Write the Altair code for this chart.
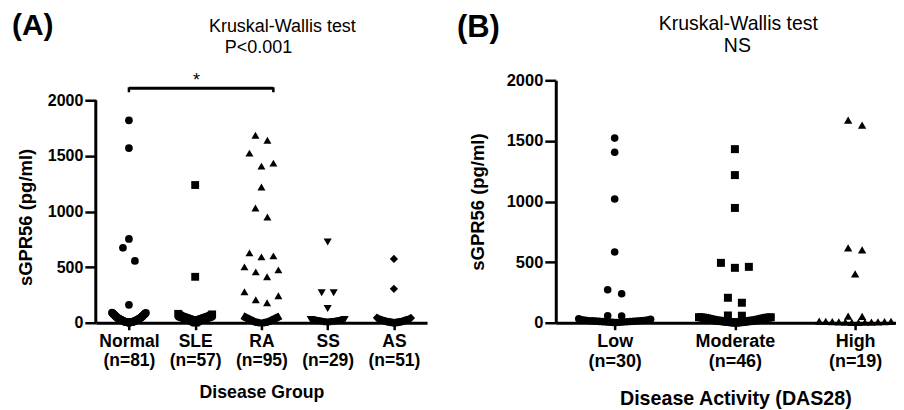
import json
import altair as alt
import pandas as pd

FONT = "Liberation Sans"

# ---------------- data ----------------
groups_a = ["Normal", "SLE", "RA", "SS", "AS"]
counts_a = [81, 57, 95, 29, 51]
normal_vals = [1820, 1570, 753, 673, 556, 161,
               0, 1, 1, 2, 2, 3, 3, 4, 4, 5, 5, 6, 6, 7, 7, 8, 8, 9, 10, 10,
               11, 12, 13, 14, 15, 16, 17, 18, 19, 20, 21, 22, 23, 24, 25, 26,
               27, 28, 29, 30, 31, 32, 34, 35, 36, 38, 39, 40, 42, 44, 45, 47,
               48, 50, 52, 54, 55, 57, 59, 61, 63, 65, 67, 69, 71, 73, 75, 77,
               79, 81, 83, 85, 87, 89, 92]
sle_vals = [1238, 413,
            2, 4, 6, 8, 10, 12, 14, 16, 18, 20, 21, 22, 23, 24, 25, 26, 27, 28,
            29, 30, 31, 32, 33, 34, 35, 36, 37, 38, 39, 40, 41, 42, 43, 44, 45,
            46, 47, 48, 49, 50, 51, 52, 53, 54, 55, 56, 57, 58, 60, 62, 64, 66,
            70, 75, 80]
ra_vals = [1686, 1641, 1525, 1435, 1408, 1220, 1031, 951, 628, 601, 592, 502,
           475, 457, 413, 278, 242, 206, 179,
           0, 0, 1, 1, 2, 2, 3, 3, 4, 4, 5, 5, 6, 6, 7, 7, 8, 8, 9, 9, 10, 10,
           11, 11, 12, 12, 13, 14, 15, 16, 17, 18, 19, 20, 21, 22, 23, 24, 25,
           26, 27, 28, 29, 30, 31, 32, 33, 34, 35, 36, 37, 38, 39, 40, 41, 42,
           43, 44, 45, 46, 47, 48, 49, 50, 51, 52, 53, 54, 55, 56, 57, 58, 59,
           60, 62, 64]
ss_vals = [726, 269, 269, 128,
           1, 2, 3, 4, 5, 6, 7, 8, 9, 10, 11, 12, 13, 14, 15, 16, 17, 18, 19,
           20, 22, 24, 26, 28, 30]
as_vals = [574, 305,
           0, 0, 1, 1, 2, 2, 3, 3, 4, 4, 5, 5, 6, 6, 7, 7, 8, 8, 9, 9, 10, 11,
           12, 13, 14, 15, 16, 17, 18, 19, 20, 21, 22, 23, 24, 25, 26, 27, 28,
           29, 30, 31, 32, 34, 36, 38, 40, 43, 46]

groups_b = ["Low", "Moderate", "High"]
counts_b = [30, 46, 19]
low_vals = [1523, 1407, 1021, 584, 272, 239, 58, 56,
            2, 3, 4, 5, 6, 7, 8, 9, 10, 11, 12, 13, 14, 15, 16, 17, 18, 20,
            22, 25, 28, 32]
moderate_vals = [1432, 1218, 947, 494, 461, 453, 206, 165, 60, 58,
                 1, 2, 3, 4, 5, 6, 7, 8, 9, 10, 11, 12, 13, 14, 15, 16, 17, 18,
                 19, 20, 22, 24, 26, 28, 30, 32, 34, 36, 38, 40, 41, 42, 43,
                 44, 45, 46]
high_vals = [1671, 1630, 617, 601, 403, 55, 52,
             2, 3, 4, 5, 6, 7, 8, 9, 10, 11, 12, 14]

y_ticks = [0, 500, 1000, 1500, 2000]
panel_labels = ["(A)", "(B)"]
test_name = "Kruskal-Wallis test"
test_results = ["P<0.001", "NS"]
star_text = "*"
bracket_pair = ["Normal", "RA"]
x_titles = ["Disease Group", "Disease Activity (DAS28)"]
y_title = "sGPR56 (pg/ml)"

# ---------------- layout / style ----------------
H = 243                      # both plot areas share the same height
WA, WB = 332, 341
HA_AXIS = 223                # panel A's 0..2000 axis is shorter
YMAX_A = 2000 * H / HA_AXIS  # headroom above 2000 in panel A
XDOM_A = [-0.5, 4.5]
XDOM_B = [-0.49, 2.34]
shapes_a = ["circle", "square", "triangle-up", "triangle-down", "diamond"]
sizes_a = [60, 68, 72, 72, 70]
shapes_b = ["circle", "square", "triangle-up"]
sizes_b = [58, 70, 72]


def swarm(values, px_per_unit, row_h, slot, max_w):
    """GraphPad-like column scatter: group close values into rows and
    spread each row symmetrically (lowest value in the centre)."""
    vals = sorted(values)
    rows = []
    for v in vals:
        if rows and v * px_per_unit <= rows[-1][0] * px_per_unit + row_h:
            rows[-1].append(v)
        else:
            rows.append([v])
    out = []
    for row in rows:
        n = len(row)
        step = slot if n < 2 else min(slot, max_w / (n - 1))
        pos = [(i - (n - 1) / 2) * step for i in range(n)]
        order = sorted(pos, key=lambda p: (abs(p), -p))
        out.extend(zip(row, order))
    return out


def build_df(groups, vals_list, px_y, step_px, row_h, slot, max_w):
    recs = []
    for gi, (g, vals) in enumerate(zip(groups, vals_list)):
        for v, off in swarm(vals, px_y, row_h, slot, max_w):
            recs.append({"group": g, "value": v, "x": gi + off / step_px})
    return pd.DataFrame(recs)


step_a = WA / (XDOM_A[1] - XDOM_A[0])
step_b = WB / (XDOM_B[1] - XDOM_B[0])
df_a = build_df(groups_a, [normal_vals, sle_vals, ra_vals, ss_vals, as_vals],
                H / YMAX_A, step_a, 14, 12, 34)
df_b = build_df(groups_b, [low_vals, moderate_vals, high_vals],
                H / 2000, step_b, 6, 14, 72)


def label_expr(groups, counts):
    labs = [f"{g}|(n={c})" for g, c in zip(groups, counts)]
    return "split(" + json.dumps(labs) + "[datum.value], '|')"


def x_axis(groups, counts, title, lab_size, title_size, title_y, title_x):
    return alt.Axis(values=list(range(len(groups))), labelExpr=label_expr(groups, counts),
                    title=title, grid=False, domainColor="black", domainWidth=3,
                    tickColor="black", tickWidth=2.5, tickSize=7, labelPadding=3,
                    labelFont=FONT, labelFontSize=lab_size, labelFontWeight="bold",
                    labelColor="black", labelLineHeight=lab_size + 1.5, labelFlush=False,
                    labelOverlap=False, titleFont=FONT, titleFontSize=title_size,
                    titleFontWeight="bold", titleColor="black", titleY=title_y,
                    titleX=title_x, titleBaseline="alphabetic")


def y_axis(lab_size, title_pad, show_domain=True, title_y=None):
    kw = dict(values=y_ticks, format="d", title=y_title, grid=False,
              domain=show_domain, domainColor="black", domainWidth=3,
              tickColor="black", tickWidth=2.5, tickSize=11, labelPadding=2,
              labelFont=FONT, labelFontSize=lab_size, labelFontWeight="bold",
              labelColor="black", labelFlush=False, labelOverlap=False,
              titleFont=FONT, titleFontSize=18.5, titleFontWeight="bold",
              titleColor="black", titlePadding=title_pad)
    if title_y is not None:
        kw["titleY"] = title_y
    return alt.Axis(**kw)


def text_layer(txt, x, y, size, weight="normal", align="center"):
    return alt.Chart(pd.DataFrame({"t": [txt]})).mark_text(
        font=FONT, fontSize=size, fontWeight=weight, color="black",
        align=align, baseline="alphabetic").encode(
        text="t:N", x=alt.value(x), y=alt.value(y))


# ---------------- panel A ----------------
xs_a = alt.Scale(domain=XDOM_A, nice=False, zero=False)
ys_a = alt.Scale(domain=[0, YMAX_A], nice=False)
pts_a = alt.Chart(df_a).mark_point(filled=True, opacity=1, color="black").encode(
    x=alt.X("x:Q", scale=xs_a,
            axis=x_axis(groups_a, counts_a, x_titles[0], 17.5, 17.7, 75, WA / 2)),
    y=alt.Y("value:Q", scale=ys_a, axis=y_axis(16, 12, False, 137)),
    shape=alt.Shape("group:N", scale=alt.Scale(domain=groups_a, range=shapes_a), legend=None),
    size=alt.Size("group:N", scale=alt.Scale(domain=groups_a, range=sizes_a), legend=None),
)
# y-axis line of panel A, from 0 to 2000 only
y_line = alt.Chart(pd.DataFrame({"y0": [y_ticks[0]], "y1": [y_ticks[-1]]})).mark_rule(
    color="black", strokeWidth=3).encode(
    x=alt.value(0), y=alt.Y("y0:Q", scale=ys_a), y2="y1:Q")

i0, i1 = groups_a.index(bracket_pair[0]), groups_a.index(bracket_pair[1])
br = pd.DataFrame({"x": [i0], "x2": [i1 + 0.18]})
bracket = alt.Chart(br).mark_rule(color="black", strokeWidth=3).encode(
    x=alt.X("x:Q", scale=xs_a), x2="x2:Q", y=alt.value(8))
ends = pd.DataFrame({"x": [i0, i1 + 0.18]})
bracket_ends = alt.Chart(ends).mark_rule(color="black", strokeWidth=2.5).encode(
    x=alt.X("x:Q", scale=xs_a), y=alt.value(7), y2=alt.value(12))

panel_a = alt.layer(
    pts_a, y_line, bracket, bracket_ends,
    text_layer(panel_labels[0], -84, -45, 30, "bold", "left"),
    text_layer(test_name, 187, -48, 18),
    text_layer(test_results[0], 163, -27, 18),
    text_layer(star_text, 101, 6, 18),
).properties(width=WA, height=H)

# ---------------- panel B ----------------
xs_b = alt.Scale(domain=XDOM_B, nice=False, zero=False)
ys_b = alt.Scale(domain=[0, 2000], nice=False)
pts_b = alt.Chart(df_b).mark_point(filled=True, opacity=1, color="black").encode(
    x=alt.X("x:Q", scale=xs_b,
            axis=x_axis(groups_b, counts_b, x_titles[1], 18, 19.7, 82, 180)),
    y=alt.Y("value:Q", scale=ys_b, axis=y_axis(16.5, 19)),
    shape=alt.Shape("group:N", scale=alt.Scale(domain=groups_b, range=shapes_b), legend=None),
    size=alt.Size("group:N", scale=alt.Scale(domain=groups_b, range=sizes_b), legend=None),
)
panel_b = alt.layer(
    pts_b,
    text_layer(panel_labels[1], -99, -43, 31, "bold", "left"),
    text_layer(test_name, 183, -50, 19.5),
    text_layer(test_results[1], 182, -28, 19.5),
).properties(width=WB, height=H)

chart = alt.hconcat(panel_a, panel_b, spacing=30).resolve_scale(
    shape="independent", size="independent"
).properties(
    padding={"left": 4, "top": 3, "right": 0, "bottom": 0},
    background="white",
).configure_view(stroke=None)

chart.save("out.html", embed_options={"renderer": "svg", "actions": False})
